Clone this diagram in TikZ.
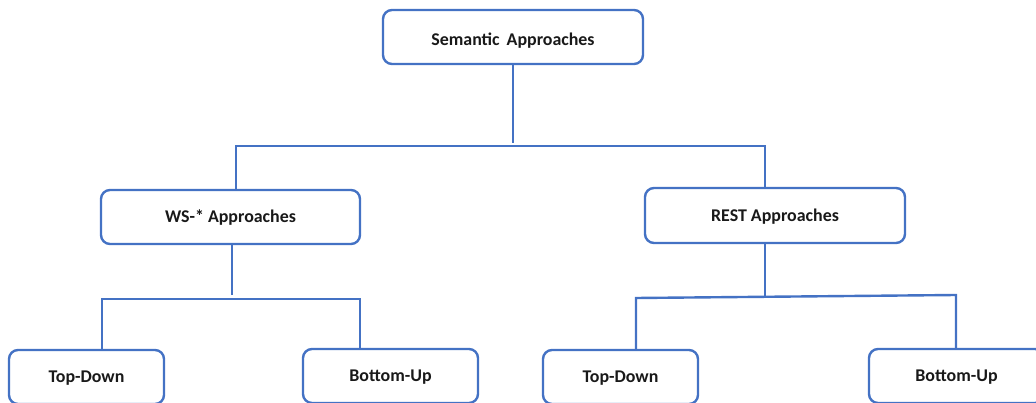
\documentclass[tikz,border=0pt]{standalone}
\usepackage{fontspec}
\setmainfont{Carlito}
\begin{document}
\begin{tikzpicture}[x=1pt,y=-1pt,
  line/.style={draw=boxblue, line width=2.4pt},
  box/.style={line, rounded corners=9pt, fill=white, inner sep=0pt,
    minimum height=54pt, text height=11.8pt, text depth=0pt,
    font=\fontsize{17.9}{21}\selectfont\bfseries, text=black!90}]
\definecolor{boxblue}{HTML}{4472C4}
\useasboundingbox (0,0) rectangle (1036,403);
\clip (0,0) rectangle (1036,403);

% boxes
\node[box, minimum width=260pt] (sem) at (513,37) {\raisebox{-3pt}{Semantic\, Approaches}};
\node[box, minimum width=259pt] (ws) at (230.5,217) {WS-* Approaches};
\node[box, minimum width=260pt, minimum height=55pt] (rest) at (775,215.5) {REST Approaches};
\node[box, minimum width=155pt] (td1) at (86.5,377) {Top-Down};
\node[box, minimum width=175pt] (bu1) at (390.5,376) {Bottom-Up};
\node[box, minimum width=155pt] (td2) at (620.5,377) {Top-Down};
\node[box, minimum width=175pt] (bu2) at (956.5,376) {Bottom-Up};

% junction points
\coordinate (semend) at (513,143);
\coordinate (b1l) at (236,146);
\coordinate (b1r) at (765,146);
\coordinate (wsend) at (232,295);
\coordinate (b2l) at (102,299);
\coordinate (b2r) at (360,299);
\coordinate (restend) at (765,296);
\coordinate (b3l) at (636,298);
\coordinate (b3r) at (956,295);

% connectors
\draw[line] (sem.south) -- (semend);
\draw[line] (ws.north -| b1l) -- (b1l) -- (b1r) -- (rest.north -| b1r);
\draw[line] (ws.south -| wsend) -- (wsend);
\draw[line] (td1.north -| b2l) -- (b2l) -- (b2r) -- (bu1.north -| b2r);
\draw[line] (rest.south -| restend) -- (restend);
\draw[line] (td2.north -| b3l) -- (b3l) -- (b3r) -- (bu2.north -| b3r);
\end{tikzpicture}
\end{document}
